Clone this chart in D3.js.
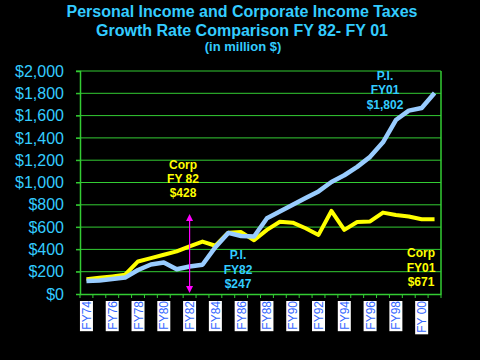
<!DOCTYPE html>
<html><head><meta charset="utf-8">
<script src="https://cdn.jsdelivr.net/npm/d3@7"></script>
<style>
html,body{margin:0;padding:0;background:#000;}
svg{display:block;}
text{font-family:"Liberation Sans",Arial,sans-serif;}
</style></head>
<body>
<script>
const years = ["FY74","FY75","FY76","FY77","FY78","FY79","FY80","FY81","FY82","FY83","FY84","FY85","FY86","FY87","FY88","FY89","FY90","FY91","FY92","FY93","FY94","FY95","FY96","FY97","FY98","FY99","FY00","FY01"];
const tickLabels = {"FY74":"FY74","FY76":"FY76","FY78":"FY78","FY80":"FY80","FY82":"FY82","FY84":"FY84","FY86":"FY86","FY88":"FY88","FY90":"FY90","FY92":"FY92","FY94":"FY94","FY96":"FY96","FY98":"FY98","FY00":"FY 00"};
const personalIncome = [117,122,135,147,215,265,282,222,247,262,420,548,520,515,680,740,800,860,920,1005,1065,1140,1230,1360,1560,1645,1668,1802];
const corporate = [132,145,158,173,292,322,352,382,428,470,433,550,555,482,575,648,640,590,530,745,575,645,651,730,708,695,670,671];
const yTicks = [0,200,400,600,800,1000,1200,1400,1600,1800,2000];
const titleLines = ["Personal Income and Corporate Income Taxes","Growth Rate Comparison FY 82- FY 01"];
const subtitle = "(in million $)";

const W=480,H=360;
const svg=d3.select("body").append("svg").attr("width",W).attr("height",H).style("background","#000");
const L=80,R=441,T=71,B=294;
const x=d3.scaleBand().domain(years).range([L,R]);
const y=d3.scaleLinear().domain([0,2000]).range([B,T]);
const cx=d=>x(d)+x.bandwidth()/2;
const grid="#33cc33";
const cyan="#33ccff";

// title
svg.append("text").attr("x",242).attr("y",17).attr("text-anchor","middle").attr("fill",cyan)
  .attr("font-weight","bold").attr("font-size",16).text(titleLines[0]);
svg.append("text").attr("x",242).attr("y",36).attr("text-anchor","middle").attr("fill",cyan)
  .attr("font-weight","bold").attr("font-size",16).text(titleLines[1]);
svg.append("text").attr("x",243).attr("y",51).attr("text-anchor","middle").attr("fill",cyan)
  .attr("font-weight","bold").attr("font-size",13).text(subtitle);

// gridlines
svg.append("g").selectAll("line").data(yTicks.filter(v=>v>0)).join("line")
  .attr("x1",L-4).attr("x2",R).attr("y1",d=>y(d)).attr("y2",d=>y(d))
  .attr("stroke",grid).attr("stroke-width",1);

// y axis
const ya=svg.append("g").attr("transform",`translate(${L},0)`)
  .call(d3.axisLeft(y).tickValues(yTicks).tickSize(4).tickFormat(d=>"$"+d3.format(",")(d)));
ya.select(".domain").attr("stroke",grid).attr("stroke-width",1.5);
ya.selectAll(".tick line").attr("stroke",grid);
ya.selectAll(".tick text").attr("fill",cyan).attr("font-size",16).attr("x",-16)
  .style("font-family",'"Liberation Sans",Arial,sans-serif');

// right border
svg.append("line").attr("x1",R).attr("x2",R).attr("y1",T).attr("y2",B).attr("stroke",grid).attr("stroke-width",1.5);

// x axis
const xa=svg.append("g").attr("transform",`translate(0,${B})`)
  .call(d3.axisBottom(x).tickSize(0).tickFormat(""));
xa.select(".domain").attr("stroke",grid).attr("stroke-width",1.5);
svg.append("g").selectAll("line").data(years.concat(["end"])).join("line")
  .attr("x1",(d,i)=>L+i*x.bandwidth()).attr("x2",(d,i)=>L+i*x.bandwidth())
  .attr("y1",B).attr("y2",B+4).attr("stroke",grid).attr("stroke-width",1);

// x tick labels
const lab=svg.append("g").selectAll("g").data(years.filter(d=>tickLabels[d])).join("g")
  .attr("transform",d=>`translate(${cx(d)},301)`);
lab.each(function(d){
  const g=d3.select(this);
  const t=g.append("text").attr("transform","rotate(-90)").attr("x",0).attr("y",4.5)
    .attr("text-anchor","end").attr("font-size",12).attr("fill","#3366ff").text(tickLabels[d]);
  const len=t.node().getComputedTextLength();
  g.insert("rect","text").attr("x",-6.5).attr("y",0).attr("width",13).attr("height",len+1.5).attr("fill","#fff");
});

// lines
const line=d3.line().x((d,i)=>cx(years[i])).y(d=>y(d));
svg.append("path").datum(corporate).attr("d",line).attr("fill","none").attr("stroke","#ffff00").attr("stroke-width",4).attr("stroke-linejoin","round");
svg.append("path").datum(personalIncome).attr("d",line).attr("fill","none").attr("stroke","#99ccff").attr("stroke-width",4.5).attr("stroke-linejoin","round");

// magenta double arrow at FY82
const ax=cx("FY82");
svg.append("line").attr("x1",ax).attr("x2",ax).attr("y1",219).attr("y2",288).attr("stroke","#ff00ff").attr("stroke-width",1.2);
svg.append("path").attr("d",`M${ax},214 L${ax-3.5},221 L${ax+3.5},221 Z`).attr("fill","#ff00ff");
svg.append("path").attr("d",`M${ax},293 L${ax-3.5},286 L${ax+3.5},286 Z`).attr("fill","#ff00ff");

// annotations
function note(xp,ys,lines,color){
  lines.forEach((s,i)=>svg.append("text").attr("x",xp).attr("y",ys[i]).attr("text-anchor","middle")
    .attr("fill",color).attr("font-weight","bold").attr("font-size",12).text(s));
}
note(183,[169,183,197],["Corp","FY 82","$428"],"#ffff00");
note(238,[259,274,288],["P.I.","FY82","$247"],cyan);
note(385,[80,94,109],["P.I.","FY01","$1,802"],cyan);
note(421,[257,272,286],["Corp","FY01","$671"],"#ffff00");
</script>
</body></html>
